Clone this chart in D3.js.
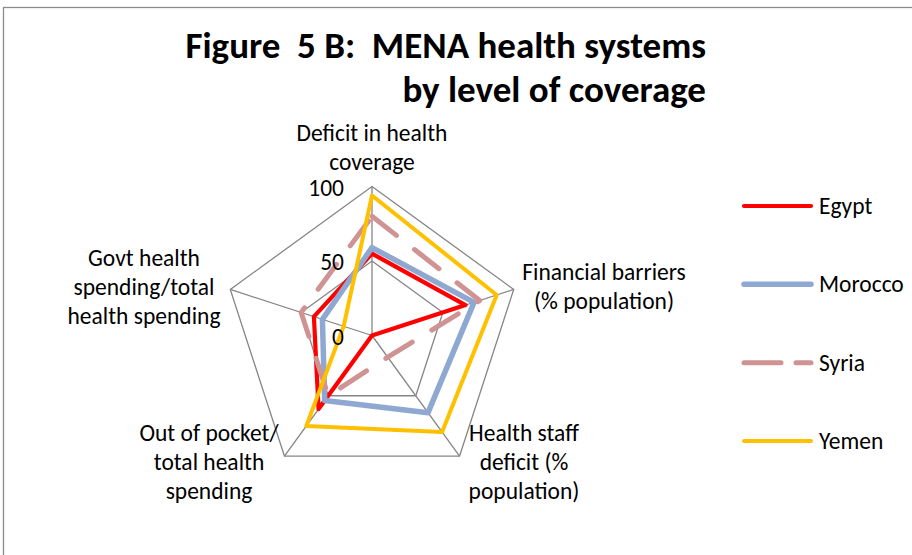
<!DOCTYPE html>
<html>
<head>
<meta charset="utf-8">
<script src="https://cdn.jsdelivr.net/npm/d3@7"></script>
<style>
  html, body { margin: 0; padding: 0; background: #fff; }
  svg { display: block; }
  text { font-family: Carlito, Calibri, Lato, sans-serif; fill: #000; }
</style>
</head>
<body>
<svg id="chart" width="912" height="555"></svg>
<script>
// Axes of the radar, clockwise from the top
const categories = [
  "Deficit in health coverage",
  "Financial barriers (% population)",
  "Health staff deficit (% population)",
  "Out of pocket/ total health spending",
  "Govt health spending/total health spending"
];
const categoryLines = [
  ["Deficit in health", "coverage"],
  ["Financial barriers", "(% population)"],
  ["Health staff", "deficit (%", "population)"],
  ["Out of pocket/", "total health", "spending"],
  ["Govt health", "spending/total", "health spending"]
];

// Series values (same order as categories)
const seriesNames = ["Egypt", "Morocco", "Syria", "Yemen"];
const egypt   = [55, 66, 0, 61, 41];
const morocco = [59, 72, 64, 54, 35];
const syria   = [80, 76, 18, 50, 50];
const yemen   = [94, 88, 80, 75, 20];

const tickValues = [0, 50, 100];
const gridRings = [50, 100];

const seriesStyle = {
  Egypt:   { color: "#FF0000", width: 4.2, dash: null },
  Morocco: { color: "#8FA8D2", width: 5.5, dash: null },
  Syria:   { color: "#D09393", width: 5,   dash: "31,23" },
  Yemen:   { color: "#FFC000", width: 4,   dash: null }
};
const seriesData = { Egypt: egypt, Morocco: morocco, Syria: syria, Yemen: yemen };

const labelSize = 23.5;
const svg = d3.select("#chart");

// chart area frame
svg.append("rect")
  .attr("x", 3.5).attr("y", 7.5)
  .attr("width", 1200).attr("height", 1000)
  .attr("fill", "none").attr("stroke", "#8c8c8c").attr("stroke-width", 1.3);

// title
const title = svg.append("text")
  .attr("text-anchor", "end")
  .attr("font-weight", "bold")
  .attr("font-size", 37);
title.append("tspan").attr("x", 706).attr("y", 58).text("Figure\u00a0 5 B:\u00a0 MENA health systems");
title.append("tspan").attr("x", 706).attr("y", 102).text("by level of coverage");

const cx = 372, cy = 335.5;
const r = d3.scaleLinear().domain([0, 100]).range([0, 149]);
const angle = d3.scalePoint().domain(d3.range(categories.length + 1)).range([0, 2 * Math.PI]);
const ang = i => angle(i);

const g = svg.append("g").attr("transform", `translate(${cx},${cy})`);

const radial = d3.lineRadial()
  .angle((d, i) => ang(i))
  .radius(d => r(d))
  .curve(d3.curveLinearClosed);

// grid rings
g.selectAll("path.ring")
  .data(gridRings)
  .join("path")
  .attr("class", "ring")
  .attr("d", v => radial(categories.map(() => v)))
  .attr("fill", "none")
  .attr("stroke", "#868686")
  .attr("stroke-width", 1.3);

// spokes
g.selectAll("line.spoke")
  .data(categories)
  .join("line")
  .attr("class", "spoke")
  .attr("x1", 0).attr("y1", 0)
  .attr("x2", (d, i) => r(100) * Math.sin(ang(i)))
  .attr("y2", (d, i) => -r(100) * Math.cos(ang(i)))
  .attr("stroke", "#868686")
  .attr("stroke-width", 1.3);

// series polygons
seriesNames.forEach(name => {
  const s = seriesStyle[name];
  g.append("path")
    .attr("d", radial(seriesData[name]))
    .attr("fill", "none")
    .attr("stroke", s.color)
    .attr("stroke-width", s.width)
    .attr("stroke-linejoin", "round")
    .attr("stroke-linecap", "round")
    .attr("stroke-dasharray", s.dash);
});

// value tick labels on the top axis
g.selectAll("text.tick")
  .data(tickValues)
  .join("text")
  .attr("class", "tick")
  .attr("x", -28)
  .attr("y", v => -r(v) + 9)
  .attr("text-anchor", "end")
  .attr("font-size", labelSize)
  .text(v => v);

// category labels
const labelPos = [
  { x: 372, y: 141 },
  { x: 604, y: 280 },
  { x: 524, y: 441 },
  { x: 209, y: 441 },
  { x: 144, y: 266 }
];
categoryLines.forEach((lines, i) => {
  const t = svg.append("text")
    .attr("text-anchor", "middle")
    .attr("font-size", labelSize);
  lines.forEach((ln, k) => {
    t.append("tspan").attr("x", labelPos[i].x).attr("y", labelPos[i].y + k * 29).text(ln);
  });
});

// legend
const legendY = d3.scalePoint().domain(seriesNames).range([206, 441]);
const legend = svg.append("g");
seriesNames.forEach(name => {
  const s = seriesStyle[name];
  const y = legendY(name);
  legend.append("line")
    .attr("x1", 744).attr("x2", 811)
    .attr("y1", y).attr("y2", y)
    .attr("stroke", s.color)
    .attr("stroke-width", s.width)
    .attr("stroke-linecap", "round")
    .attr("stroke-dasharray", s.dash ? "37,15" : null);
  legend.append("text")
    .attr("x", 819).attr("y", y + 8)
    .attr("font-size", labelSize)
    .text(name);
});
</script>
</body>
</html>
